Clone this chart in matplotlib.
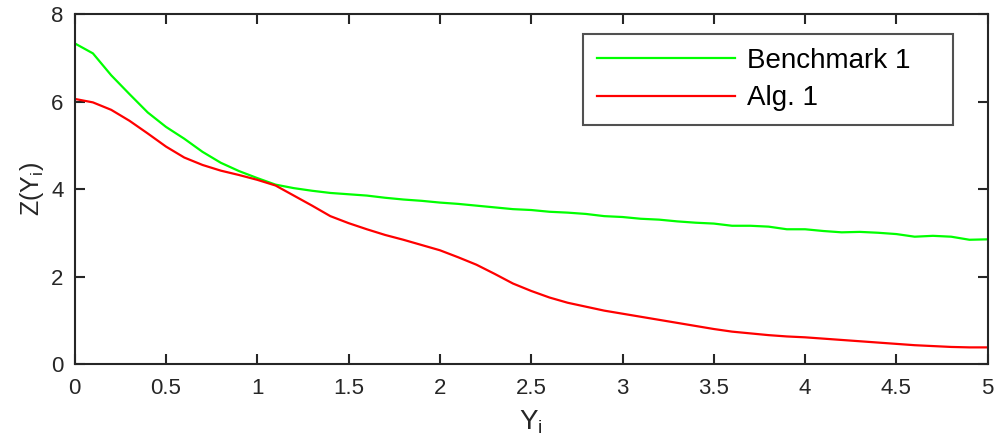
import numpy as np
import matplotlib
matplotlib.use("Agg")
import matplotlib.pyplot as plt

plt.rcParams['font.family'] = ['Liberation Sans', 'DejaVu Sans']
plt.rcParams['mathtext.fontset'] = 'custom'
plt.rcParams['mathtext.rm'] = 'Liberation Sans'
plt.rcParams['mathtext.it'] = 'Liberation Sans'

x_vals = [round(0.1 * i, 1) for i in range(51)]
benchmark1 = [7.33, 7.10, 6.60, 6.17, 5.75, 5.42, 5.15, 4.85, 4.60, 4.41,
              4.25, 4.10, 4.02, 3.96, 3.91, 3.88, 3.85, 3.80, 3.76, 3.73,
              3.69, 3.66, 3.62, 3.58, 3.54, 3.52, 3.48, 3.46, 3.43, 3.38,
              3.36, 3.32, 3.30, 3.26, 3.23, 3.21, 3.16, 3.16, 3.14, 3.08,
              3.08, 3.04, 3.01, 3.02, 3.00, 2.97, 2.91, 2.93, 2.91, 2.84,
              2.85]
alg1 = [6.06, 5.98, 5.81, 5.56, 5.27, 4.97, 4.72, 4.55, 4.42, 4.32,
        4.21, 4.08, 3.85, 3.62, 3.38, 3.22, 3.08, 2.95, 2.84, 2.72,
        2.60, 2.44, 2.27, 2.06, 1.84, 1.67, 1.52, 1.40, 1.31, 1.22,
        1.15, 1.08, 1.01, 0.94, 0.87, 0.80, 0.74, 0.70, 0.66, 0.63,
        0.61, 0.58, 0.55, 0.52, 0.49, 0.46, 0.43, 0.41, 0.39, 0.38,
        0.38]
series_labels = ['Benchmark 1', 'Alg. 1']
xticks = [0, 0.5, 1, 1.5, 2, 2.5, 3, 3.5, 4, 4.5, 5]
xticklabels = ['0', '0.5', '1', '1.5', '2', '2.5', '3', '3.5', '4', '4.5', '5']
yticks = [0, 2, 4, 6, 8]

fig = plt.figure(figsize=(9.97, 4.45), dpi=100)
ax = fig.add_axes([0.0749, 0.182, 0.9158, 0.7865])

ax.plot(x_vals, benchmark1, color='#00ff00', lw=1.6, label=series_labels[0])
ax.plot(x_vals, alg1, color='#ff0000', lw=1.6, label=series_labels[1])

ax.set_xlim(0, 5)
ax.set_ylim(0, 8)
ax.set_xticks(xticks)
ax.set_xticklabels(xticklabels)
ax.set_yticks(yticks)

axc = '#262626'
for s in ax.spines.values():
    s.set_color(axc)
    s.set_linewidth(1.5)
ax.tick_params(direction='in', length=7, width=1.5, color=axc,
               labelsize=16, labelcolor=axc, top=True, right=True, pad=8)
ax.tick_params(axis='x', pad=10)

ax.set_xlabel(r'$\mathrm{Y_i}$', fontsize=20, color=axc, labelpad=7)
ax.set_ylabel(r'$\mathrm{Z(Y_i)}$', fontsize=18, color=axc, labelpad=4)

leg = ax.legend(loc='upper left', bbox_to_anchor=(0.5564, 0.6877, 0.406, 0.2543),
                mode='expand',
                fontsize=20, frameon=True, fancybox=False, handlelength=5.0,
                handletextpad=0.4, borderpad=0.5, labelspacing=0.4,
                borderaxespad=0)
leg.get_frame().set_edgecolor(axc)
leg.get_frame().set_linewidth(1.5)
for t in leg.get_texts():
    t.set_color('black')

fig.savefig('out.png', dpi=100)
